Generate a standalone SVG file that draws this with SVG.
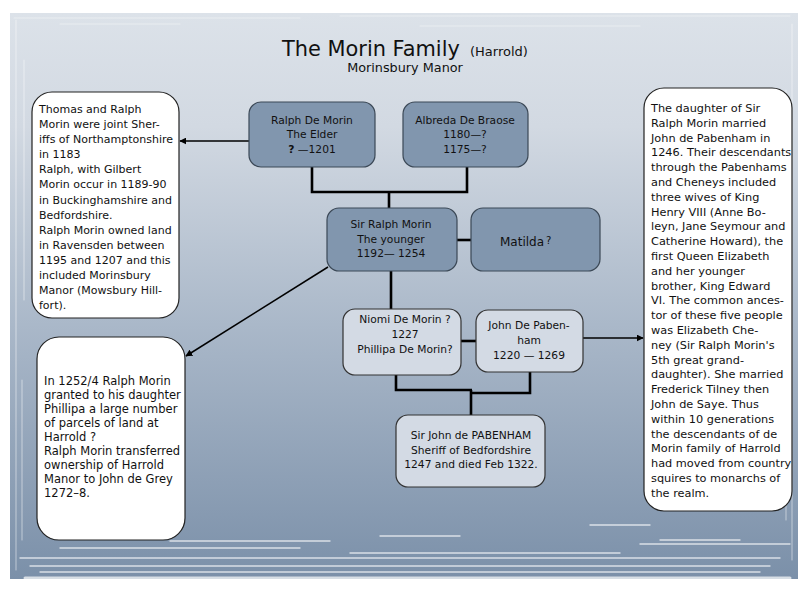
<svg xmlns="http://www.w3.org/2000/svg" width="808" height="589" viewBox="0 0 808 589">
<defs>
<linearGradient id="bg" x1="0" y1="0" x2="0" y2="1">
<stop offset="0" stop-color="#dce2e9"/>
<stop offset="0.2" stop-color="#d2d9e2"/>
<stop offset="0.55" stop-color="#aab8c9"/>
<stop offset="1" stop-color="#7b90a9"/>
</linearGradient>
<marker id="arr" viewBox="0 0 10 10" refX="9" refY="5" markerWidth="7" markerHeight="7" markerUnits="userSpaceOnUse" orient="auto">
<path d="M0,0 L10,5 L0,10 z" fill="#000"/>
</marker>
<style>
.dark{fill:#8196ae;stroke:#3b4856;stroke-width:1.2}
.light{fill:#d3dae4;stroke:#333;stroke-width:1.2}
.note{fill:#fff;stroke:#222;stroke-width:1.2}
.t{font-family:"DejaVu Sans","Liberation Sans",sans-serif;font-size:10.7px;fill:#111;text-anchor:middle}
.n{font-family:"DejaVu Sans","Liberation Sans",sans-serif;fill:#111}
.line{fill:none;stroke:#000;stroke-width:2.6}
.arrow{fill:none;stroke:#000;stroke-width:1.5;marker-end:url(#arr)}
.gr{fill:none;stroke:#fff;stroke-linecap:round}
</style>
</defs>
<rect width="808" height="589" fill="#fff"/>
<rect x="10" y="13" width="788" height="566" fill="url(#bg)"/>
<g id="grunge" opacity="0.7">
<path class="gr" d="M14 18 H300 M340 16 H790 M60 24 H180 M420 26 H640 M16 20 V570 M24 60 V300 M22 380 V540 M792 24 V560 M786 90 V300 M786 380 V520" stroke-width="1.2" opacity="0.6"/>
<path class="gr" d="M20 558 H780 M30 566 H770 M40 572 H760 M60 548 H300 M350 553 H620 M640 544 H790 M170 541 H330 M380 536 H460 M590 525 H650 M660 540 H740" stroke-width="1.4"/>
<path class="gr" d="M25 578 H790 M14 583 H795" stroke-width="3"/>
</g>
<g id="title">
<text class="n" x="282" y="56" font-size="20.9">The Morin Family</text>
<text class="n" x="470" y="56" font-size="13">(Harrold)</text>
<text class="n" x="405" y="72" font-size="12.8" text-anchor="middle">Morinsbury Manor</text>
</g>
<g id="connectors">
<path class="line" d="M312 167 V192 H467 V167 M389 192 V208"/>
<path class="line" d="M457 240 H471"/>
<path class="line" d="M391 271 V309"/>
<path class="line" d="M461 341 H476"/>
<path class="line" d="M396 375 V390 H472 M530 372 V393 H471 M471 390 V415"/>
<path class="arrow" d="M249 141 H180"/>
<path class="arrow" d="M328 267 L186 356"/>
<path class="arrow" d="M583 338 H643"/>
</g>
<g id="ralph-elder">
<rect class="dark" x="249" y="102" width="126" height="65" rx="12"/>
<text class="t" x="312" y="124">Ralph De Morin</text>
<text class="t" x="312" y="138">The Elder</text>
<text class="t" x="312" y="153"><tspan font-weight="bold">?</tspan>  —1201</text>
</g>
<g id="albreda">
<rect class="dark" x="403" y="102" width="125" height="65" rx="12"/>
<text class="t" x="465" y="124">Albreda De Braose</text>
<text class="t" x="465" y="138">1180—?</text>
<text class="t" x="465" y="153">1175—?</text>
</g>
<g id="sir-ralph">
<rect class="dark" x="327" y="208" width="130" height="63" rx="12"/>
<text class="t" x="391" y="228">Sir Ralph Morin</text>
<text class="t" x="391" y="243">The younger</text>
<text class="t" x="391" y="257">1192— 1254</text>
</g>
<g id="matilda">
<rect class="dark" x="471" y="208" width="129" height="63" rx="12"/>
<text class="n" x="500" y="246" font-size="12">Matilda<tspan font-size="10" dx="2" dy="-2">?</tspan></text>
</g>
<g id="niomi">
<rect class="light" x="343" y="309" width="118" height="66" rx="12"/>
<text class="t" x="405" y="323">Niomi De Morin ?</text>
<text class="t" x="405" y="338">1227</text>
<text class="t" x="405" y="353">Phillipa De Morin?</text>
</g>
<g id="john-pabenham">
<rect class="light" x="476" y="310" width="107" height="62" rx="12"/>
<text class="t" x="529" y="329">John De Paben-</text>
<text class="t" x="529" y="344">ham</text>
<text class="t" x="529" y="359">1220 — 1269</text>
</g>
<g id="sir-john">
<rect class="light" x="396" y="415" width="149" height="72" rx="12"/>
<text class="t" x="471" y="439">Sir John de PABENHAM</text>
<text class="t" x="471" y="454">Sheriff of Bedfordshire</text>
<text class="t" x="471" y="468">1247 and died Feb 1322.</text>
</g>
<g id="note-sheriffs">
<rect class="note" x="32" y="92" width="147" height="226" rx="20"/>
<text class="n" font-size="11">
<tspan x="39" y="113">Thomas and Ralph</tspan>
<tspan x="39" y="128.1">Morin were joint Sher-</tspan>
<tspan x="39" y="143.2">iffs of Northamptonshire</tspan>
<tspan x="39" y="158.2">in 1183</tspan>
<tspan x="39" y="173.3">Ralph, with Gilbert</tspan>
<tspan x="39" y="188.4">Morin occur in 1189-90</tspan>
<tspan x="39" y="203.5">in Buckinghamshire and</tspan>
<tspan x="39" y="218.6">Bedfordshire.</tspan>
<tspan x="39" y="233.6">Ralph Morin owned land</tspan>
<tspan x="39" y="248.7">in Ravensden between</tspan>
<tspan x="39" y="263.8">1195 and 1207 and this</tspan>
<tspan x="39" y="278.9">included Morinsbury</tspan>
<tspan x="39" y="294">Manor (Mowsbury Hill-</tspan>
<tspan x="39" y="309">fort).</tspan>
</text>
</g>
<g id="note-phillipa">
<rect class="note" x="37" y="337" width="148" height="203" rx="22"/>
<text class="n" font-size="11.5">
<tspan x="44" y="385">In 1252/4 Ralph Morin</tspan>
<tspan x="44" y="399">granted to his daughter</tspan>
<tspan x="44" y="413.1">Phillipa a large number</tspan>
<tspan x="44" y="427.1">of parcels of land at</tspan>
<tspan x="44" y="441.2">Harrold ?</tspan>
<tspan x="44" y="455.2">Ralph Morin transferred</tspan>
<tspan x="44" y="469.2">ownership of Harrold</tspan>
<tspan x="44" y="483.3">Manor to John de Grey</tspan>
<tspan x="44" y="497.3">1272–8.</tspan>
</text>
</g>
<g id="note-descendants">
<rect class="note" x="644" y="88" width="148" height="423" rx="20"/>
<text class="n" font-size="11.3">
<tspan x="651" y="112">The daughter of Sir</tspan>
<tspan x="651" y="126.8">Ralph Morin married</tspan>
<tspan x="651" y="141.6">John de Pabenham in</tspan>
<tspan x="651" y="156.4">1246. Their descendants</tspan>
<tspan x="651" y="171.2">through the Pabenhams</tspan>
<tspan x="651" y="186">and Cheneys included</tspan>
<tspan x="651" y="200.8">three wives of King</tspan>
<tspan x="651" y="215.6">Henry VIII (Anne Bo-</tspan>
<tspan x="651" y="230.4">leyn, Jane Seymour and</tspan>
<tspan x="651" y="245.2">Catherine Howard), the</tspan>
<tspan x="651" y="260">first Queen Elizabeth</tspan>
<tspan x="651" y="274.8">and her younger</tspan>
<tspan x="651" y="289.6">brother, King Edward</tspan>
<tspan x="651" y="304.4">VI. The common ances-</tspan>
<tspan x="651" y="319.2">tor of these five people</tspan>
<tspan x="651" y="334">was Elizabeth Che-</tspan>
<tspan x="651" y="348.8">ney (Sir Ralph Morin's</tspan>
<tspan x="651" y="363.6">5th great grand-</tspan>
<tspan x="651" y="378.4">daughter). She married</tspan>
<tspan x="651" y="393.2">Frederick Tilney then</tspan>
<tspan x="651" y="408">John de Saye. Thus</tspan>
<tspan x="651" y="422.8">within 10 generations</tspan>
<tspan x="651" y="437.6">the descendants of de</tspan>
<tspan x="651" y="452.4">Morin family of Harrold</tspan>
<tspan x="651" y="467.2">had moved from country</tspan>
<tspan x="651" y="482">squires to monarchs of</tspan>
<tspan x="651" y="496.8">the realm.</tspan>
</text>
</g>
</svg>
